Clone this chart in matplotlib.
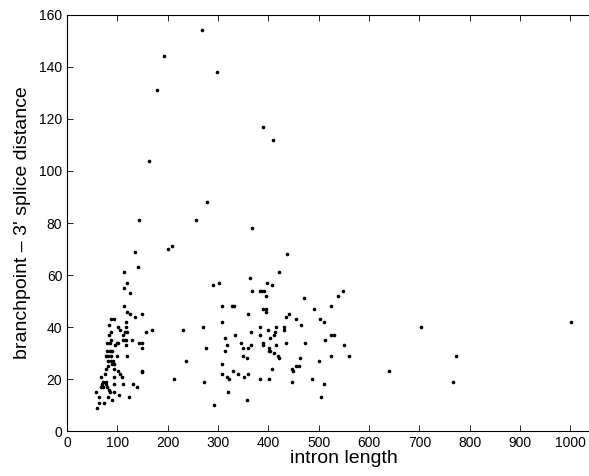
import matplotlib
matplotlib.use("Agg")
import matplotlib.pyplot as plt

plt.rcParams['font.family'] = ['Liberation Sans', 'DejaVu Sans']

# intron length vs branchpoint - 3' splice distance
# short introns (dense cluster)
short_len = [113, 119, 113, 124, 113, 118, 124, 149, 134, 87, 93, 117, 84, 101, 117,
             106, 168, 88, 114, 119, 156, 83, 111, 87, 110, 114, 117, 128,
             80, 85, 100, 102, 142, 148, 96, 116, 148, 80, 85, 90,
             78, 82, 87, 100, 119, 82, 88, 91, 93, 89, 82, 78, 93,
             101, 148, 148, 75, 105, 67, 94, 109, 72, 77, 69, 78, 93, 110, 131,
             67, 72, 80, 138, 83, 58, 86, 94, 103, 63, 81, 123, 89, 63, 74, 59,
             143, 141, 134, 162, 179, 193]
short_dist = [61, 57, 55, 53, 48, 46, 45, 45, 44, 43, 43, 42, 41, 40, 40,
              39, 39, 38, 38, 38, 38, 37, 37, 35, 35, 35, 35, 35,
              34, 34, 34, 34, 34, 34, 33, 33, 32, 31, 31, 31,
              29, 29, 29, 29, 29, 27, 27, 27, 26, 26, 25, 24, 24,
              23, 23, 22.6, 22, 22, 21, 21, 21, 19, 19, 18, 18, 18, 18, 18,
              17, 17, 17, 17, 16, 15, 15, 15, 14, 13, 13, 13, 12, 11, 11, 9,
              81, 63, 69, 104, 131, 144]

# longer introns
long_len = [267, 298, 389, 408, 278, 256, 368, 201, 208, 437, 420, 301, 290, 364,
            397, 407, 384, 388, 392, 368, 396, 471, 549, 538, 307, 328, 331, 389,
            491, 525, 359, 396, 396, 440, 434, 454, 503, 510, 307, 1001, 704, 269,
            384, 414, 400, 230, 431, 431, 365, 412, 410, 465, 525, 531, 384, 333,
            313, 404, 434, 345, 389, 389, 472, 512, 360, 365, 401, 401, 404, 414,
            275, 317, 350, 313, 550, 410, 419, 525, 560, 772, 350, 358, 421, 462,
            501, 237, 307, 454, 460, 446, 449, 407, 318, 330, 339, 351, 360, 307,
            322, 213, 383, 401, 487, 272, 446, 766, 510, 320, 357, 505, 292, 640]
long_dist = [154, 138, 117, 112, 88, 81, 78, 70, 71, 68, 61, 57, 56, 59,
             57, 56, 54, 54, 54, 54, 52, 51, 54, 52, 48, 48, 48, 47,
             47, 48, 45, 46, 47, 45, 44, 43, 43, 42, 42, 42, 40, 40,
             40, 40, 39, 39, 39, 40, 38, 38, 37, 41, 37, 37, 37, 37,
             36, 36, 34, 34, 33, 34, 34, 35, 32, 33, 31, 32, 31, 33,
             32, 33, 32, 31, 33, 30, 29, 29, 29, 29, 29, 28, 28, 28,
             27, 27, 26, 25, 25, 24, 23, 24, 21, 23, 22, 21, 22, 22,
             20, 20, 20, 20, 20, 19, 19, 19, 18, 15, 12, 13, 10, 23]

fig = plt.figure(figsize=(5.89, 4.76), dpi=100)
ax = fig.add_axes([0.114, 0.094, 0.94, 0.875])

ax.plot(short_len + long_len, short_dist + long_dist, '.', color='black',
        markersize=3.2, linestyle='none')

ax.set_xlim(0, 1100)
ax.set_ylim(0, 160)
ax.set_xticks(range(0, 1001, 100))
ax.set_yticks(range(0, 161, 20))
ax.tick_params(direction='in', top=True, right=True, length=4, width=0.6,
               labelsize=10, colors='black')
for s in ax.spines.values():
    s.set_linewidth(0.8)

ax.set_xlabel('intron length', fontsize=14, labelpad=0)
ax.set_ylabel("branchpoint \u2013 3' splice distance", fontsize=14, labelpad=6)

fig.savefig('out.png', dpi=100)
